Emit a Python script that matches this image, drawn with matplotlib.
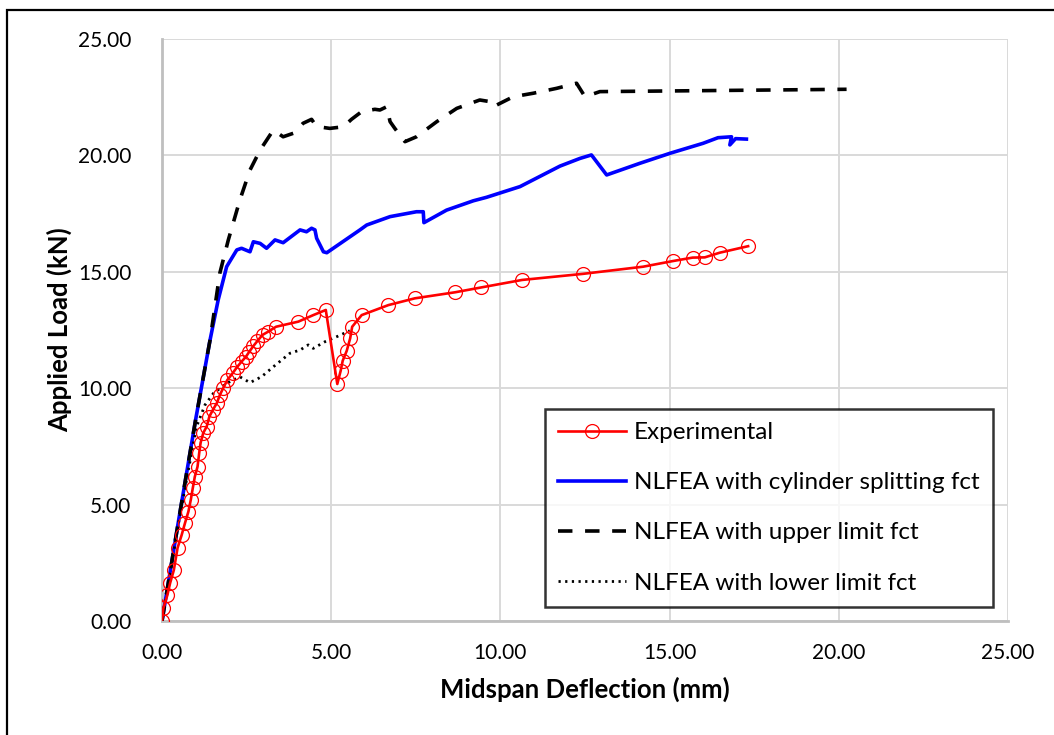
import matplotlib.pyplot as plt
from matplotlib.patches import Rectangle

plt.rcParams['font.family'] = ['Lato', 'DejaVu Sans']

# Experimental test data (mm, kN)
exp_x = [0.00, 0.04, 0.16, 0.24, 0.35, 0.46, 0.58, 0.68, 0.78, 0.85, 0.91, 0.97,
         1.05, 1.10, 1.14, 1.22, 1.32, 1.40, 1.50, 1.62, 1.71, 1.81, 1.93, 2.09,
         2.22, 2.35, 2.48, 2.58, 2.70, 2.82, 2.97, 3.14, 3.37, 4.03, 4.47, 4.84,
         5.18, 5.28, 5.34, 5.46, 5.56, 5.62, 5.90, 6.69, 7.47, 8.66, 9.44, 10.64,
         12.43, 14.22, 15.09, 15.68, 16.04, 16.48, 17.32]
exp_y = [0.00, 0.55, 1.12, 1.63, 2.19, 3.14, 3.69, 4.21, 4.70, 5.20, 5.71, 6.20,
         6.63, 7.22, 7.65, 8.08, 8.35, 8.78, 9.06, 9.36, 9.71, 10.01, 10.35, 10.65,
         10.91, 11.14, 11.35, 11.57, 11.81, 12.03, 12.29, 12.43, 12.64, 12.86, 13.14, 13.36,
         10.18, 10.75, 11.18, 11.61, 12.14, 12.64, 13.14, 13.57, 13.86, 14.12, 14.33, 14.65,
         14.91, 15.22, 15.46, 15.61, 15.62, 15.82, 16.10]

# NLFEA with cylinder splitting fct
cyl_x = [0.00, 0.50, 1.00, 1.42, 1.66, 1.91, 2.21, 2.35, 2.60, 2.70, 2.90, 3.09,
         3.34, 3.58, 4.08, 4.27, 4.42, 4.52, 4.57, 4.77, 4.87, 5.85, 6.05, 6.74,
         7.52, 7.72, 7.74, 8.41, 9.20, 9.59, 10.58, 11.76, 12.35, 12.69, 13.14, 14.12,
         15.01, 15.99, 16.43, 16.83, 16.78, 16.95, 17.27]
cyl_y = [0.00, 4.40, 8.70, 12.07, 13.79, 15.22, 15.94, 16.01, 15.86, 16.29, 16.22, 16.01,
         16.37, 16.25, 16.80, 16.72, 16.87, 16.80, 16.44, 15.86, 15.82, 16.80, 17.01, 17.37,
         17.58, 17.58, 17.11, 17.65, 18.05, 18.20, 18.66, 19.54, 19.87, 20.02, 19.16, 19.66,
         20.09, 20.52, 20.76, 20.80, 20.45, 20.72, 20.70]

# NLFEA with upper limit fct
up_x = [0.00, 0.50, 1.00, 1.42, 1.71, 1.96, 2.30, 2.60, 2.90, 3.29, 3.58, 3.88,
        4.17, 4.42, 4.57, 4.62, 4.96, 5.36, 5.60, 5.90, 6.29, 6.44, 6.64, 6.74,
        6.88, 7.18, 7.52, 8.12, 8.71, 9.39, 9.69, 9.79, 10.38, 10.97, 11.66, 12.25,
        12.50, 12.94, 20.23]
up_y = [0.00, 4.40, 8.70, 12.07, 14.95, 16.37, 18.08, 19.37, 20.23, 21.09, 20.80, 20.95,
        21.38, 21.55, 21.23, 21.23, 21.16, 21.23, 21.55, 21.88, 21.98, 21.95, 22.09, 21.45,
        21.16, 20.59, 20.80, 21.45, 22.02, 22.38, 22.31, 22.09, 22.52, 22.67, 22.88, 23.10,
        22.52, 22.74, 22.84]

# NLFEA with lower limit fct
low_x = [0.00, 0.50, 1.02, 1.27, 1.52, 1.91, 2.30, 2.60, 2.94, 3.29, 3.78, 4.08,
         4.32, 4.47, 4.82, 5.16, 5.55]
low_y = [0.00, 4.30, 8.35, 9.28, 9.78, 10.21, 10.49, 10.24, 10.49, 10.92, 11.50, 11.64,
         11.86, 11.71, 12.00, 12.21, 12.47]

ticks = [0, 5, 10, 15, 20, 25]

fig = plt.figure(figsize=(10.54, 7.35), dpi=100)
ax = fig.add_axes([162 / 1054, 1 - 621 / 735, 846 / 1054, 582 / 735])

ax.plot(exp_x, exp_y, color='#ff0000', lw=1.9, marker='o', ms=10,
        mfc='none', mec='#ff0000', mew=0.9, label='Experimental', zorder=4)
ax.plot(cyl_x, cyl_y, color='#0000ff', lw=2.6,
        label='NLFEA with cylinder splitting fct', zorder=3)
ax.plot(up_x, up_y, color='black', lw=2.6, ls=(0, (4, 3.5)),
        label='NLFEA with upper limit fct', zorder=3)
ax.plot(low_x, low_y, color='black', lw=2.0, ls=(0, (0.8, 1.6)),
        label='NLFEA with lower limit fct', zorder=3)

ax.set_xlim(0, 25)
ax.set_ylim(0, 25)
ax.set_xticks(ticks)
ax.set_yticks(ticks)
ax.set_xticklabels([f'{t:.2f}' for t in ticks])
ax.set_yticklabels([f'{t:.2f}' for t in ticks])
ax.tick_params(length=0, labelsize=15, colors='black')
ax.tick_params(axis='x', pad=16)
ax.tick_params(axis='y', pad=22)
ax.grid(True, color='#d9d9d9', lw=1.4)
ax.set_axisbelow(True)
for s in ['top', 'right']:
    ax.spines[s].set_visible(False)
for s in ['left', 'bottom']:
    ax.spines[s].set_color('#bfbfbf')
    ax.spines[s].set_linewidth(2)

ax.set_xlabel('Midspan Deflection (mm)', fontsize=18.5, fontweight='bold', labelpad=10)
ax.set_ylabel('Applied Load (kN)', fontsize=18.5, fontweight='bold', labelpad=4)

leg = ax.legend(loc='lower right', bbox_to_anchor=(0.982, 0.024),
                fontsize=17.5, frameon=True, fancybox=False, edgecolor='black',
                handlelength=2.8, labelspacing=1.2, borderpad=0.55,
                handletextpad=0.3, borderaxespad=0)
leg.get_frame().set_linewidth(1.8)

# outer border of the chart area
fig.patches.append(Rectangle((7 / 1054, -0.1), 1.2, 1 - 10 / 735 + 0.1,
                             transform=fig.transFigure, fill=False,
                             edgecolor='black', lw=1.6))

fig.savefig('out.png', dpi=100)
